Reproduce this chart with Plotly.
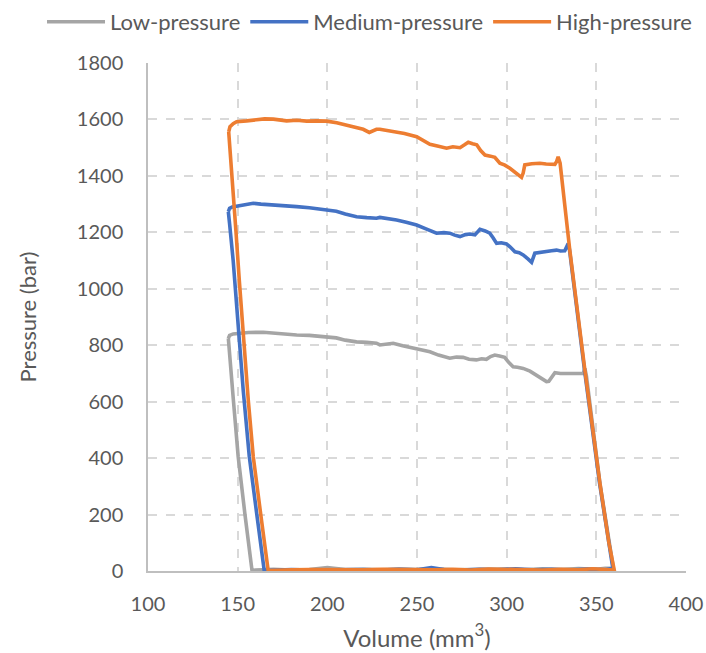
import plotly.graph_objects as go

# ---- data (Volume mm^3, Pressure bar), each a closed P-V loop ----
low_v = [144.8, 145.5, 147.5, 151.3, 156, 164.3, 170, 176, 182.9, 190, 199.6, 205, 210, 216.3, 222, 227.4,
         229.3, 233, 236.7, 242, 247.9, 252, 257.2, 262, 268.3, 272, 275.7, 279, 283.1, 286, 288.7, 291,
         293.4, 296, 298.9, 301, 303.6, 306, 309.2, 313, 316.6, 319, 322.2, 323.5, 325, 326.9, 330, 333.4,
         338, 342.7, 343.6,
         344.5, 352, 357, 359.5,
         355, 350, 340, 330, 320, 310, 300, 290, 280, 270, 260, 250, 240, 230, 220, 210, 200, 190, 180,
         170, 160, 158,
         154, 150.3, 147.6, 145.5, 144.8]
low_p = [824, 835, 840, 842, 845, 846, 842, 840, 836, 835, 830, 826, 818, 812, 810, 807,
         801, 805, 807, 798, 789, 785, 777, 765, 754, 758, 757, 750, 748, 752, 750, 760,
         765, 762, 757, 740, 724, 722, 718, 708, 694, 682, 671, 672, 688, 703, 700, 700,
         702, 700, 718,
         690, 311, 100, 10,
         10, 6, 9, 5, 8, 4, 7, 5, 6, 4, 8, 5, 7, 4, 6, 5, 12, 5, 3,
         6, 3, 2,
         204, 405, 606, 750, 824]

med_v = [144.8, 145.5, 147, 149.4, 153, 158.7, 163, 168, 175, 182.9, 190, 199.6, 205, 210, 216.3, 222,
         227.4, 229.3, 233, 238.6, 244, 249.8, 255, 260.9, 265, 268.3, 271, 274, 277, 279.5, 282.3,
         285.1, 288, 290.6, 292.5, 294.4, 297, 299.9, 302, 304.6, 307, 309.2, 312, 313.9, 315.7, 319,
         322.2, 325, 327.8, 330, 332.4, 334.3, 335,
         343.4, 351.8, 356.8, 359.2,
         355, 345, 335, 325, 315, 305, 295, 285, 275, 265, 258, 250, 240, 230, 220, 210, 200, 190, 180,
         170, 164.8,
         160.6, 156.5, 153.1, 150, 147.5, 145.5, 144.8]
med_p = [1273, 1285, 1290, 1293, 1298, 1303, 1300, 1297, 1295, 1291, 1287, 1281, 1275, 1265, 1255, 1252,
         1250, 1253, 1250, 1244, 1236, 1226, 1212, 1197, 1199, 1197, 1190, 1185, 1192, 1194, 1191,
         1211, 1205, 1197, 1180, 1161, 1163, 1159, 1148, 1131, 1128, 1120, 1105, 1094, 1126, 1130,
         1131, 1135, 1137, 1134, 1135, 1160, 1140,
         712, 311, 100, 10,
         4, 7, 3, 6, 4, 8, 4, 6, 3, 5, 12, 4, 6, 3, 5, 4, 6, 3, 5,
         3, 2,
         204, 405, 640, 900, 1100, 1230, 1273]

high_v = [145.0, 145.7, 147.5, 149.4, 155, 160.6, 165, 169.9, 177.3, 183, 188.5, 194, 199.6, 205.2, 212.6,
          220, 223.4, 227.4, 229.3, 236.7, 243, 249.8, 253, 257.2, 262, 266.5, 270, 274, 276.5, 278.6,
          281, 283.3, 285.5, 287.9, 291, 293.4, 296.2, 299, 301.8, 305, 308.3, 309.2, 310.1, 314, 318.5,
          322, 326.9, 327.8, 328.7, 329.8,
          335.2, 343.6, 352, 357, 359.5, 360,
          355, 348, 340, 330, 320, 310, 300, 290, 280, 270, 260, 250, 240, 230, 220, 210, 200, 190, 180,
          170, 167,
          162.8, 158.7, 155.9, 152.7, 150.9, 149, 146.5, 145.0]
high_p = [1556, 1574, 1585, 1592, 1595, 1600, 1602, 1601, 1595, 1597, 1594, 1595, 1594, 1588, 1577,
          1565, 1554, 1565, 1565, 1557, 1550, 1539, 1527, 1512, 1505, 1498, 1503, 1500, 1510, 1519,
          1514, 1510, 1490, 1474, 1470, 1466, 1445, 1438, 1427, 1412, 1395, 1410, 1439, 1443, 1445,
          1442, 1441, 1450, 1468, 1445,
          1137, 712, 311, 100, 15, 3,
          5, 8, 4, 6, 3, 5, 4, 7, 3, 6, 4, 5, 3, 6, 4, 5, 3, 5, 4,
          3, 2,
          204, 405, 606, 854, 1031, 1208, 1420, 1556]

names = ["Low-pressure", "Medium-pressure", "High-pressure"]
colors = ["#A5A5A5", "#4472C4", "#ED7D31"]

x_ticks = [100, 150, 200, 250, 300, 350, 400]
y_ticks = [0, 200, 400, 600, 800, 1000, 1200, 1400, 1600, 1800]

FONT = "Lato"
TXT = "#595959"

fig = go.Figure()
for v, p, n, c in zip([low_v, med_v, high_v], [low_p, med_p, high_p], names, colors):
    fig.add_trace(go.Scatter(x=v, y=p, mode="lines", name=n,
                             line=dict(color=c, width=3.6)))

fig.update_layout(
    width=706, height=653,
    paper_bgcolor="white", plot_bgcolor="white",
    margin=dict(l=148, r=20, t=63, b=82, autoexpand=False),
    font=dict(family=FONT, size=20, color=TXT),
    showlegend=True,
    legend=dict(orientation="h", x=-0.197, xanchor="left", y=1.0807, yanchor="middle",
                xref="paper", yref="paper", font=dict(size=22, color=TXT),
                itemwidth=58,
                bgcolor="rgba(0,0,0,0)", traceorder="normal"),
)

fig.update_xaxes(
    range=[100, 400], tickvals=x_ticks, ticktext=[str(t) for t in x_ticks],
    showgrid=True, gridcolor="#D9D9D9", griddash="dash", gridwidth=1.5,
    showline=True, linecolor="#BFBFBF", linewidth=1.5, zeroline=False,
    ticks="", ticklabelstandoff=14, tickfont=dict(size=20, color=TXT),
    title=dict(text="Volume (mm<sup>3</sup>)", font=dict(size=24, color=TXT), standoff=16),
)
fig.update_yaxes(
    range=[0, 1800], tickvals=y_ticks, ticktext=[str(t) for t in y_ticks],
    showgrid=True, gridcolor="#D9D9D9", griddash="dash", gridwidth=1.5,
    showline=True, linecolor="#BFBFBF", linewidth=1.5, zeroline=False,
    ticks="", ticklabelstandoff=19, tickfont=dict(size=20, color=TXT),
    title=dict(text="Pressure (bar)", font=dict(size=22, color=TXT), standoff=34),
)

# remove the default page margin so the 706x653 figure fills the window exactly
fig.write_html("out.html", config={"displayModeBar": False},
               post_script="document.body.style.margin='0';document.body.style.overflow='hidden';")
